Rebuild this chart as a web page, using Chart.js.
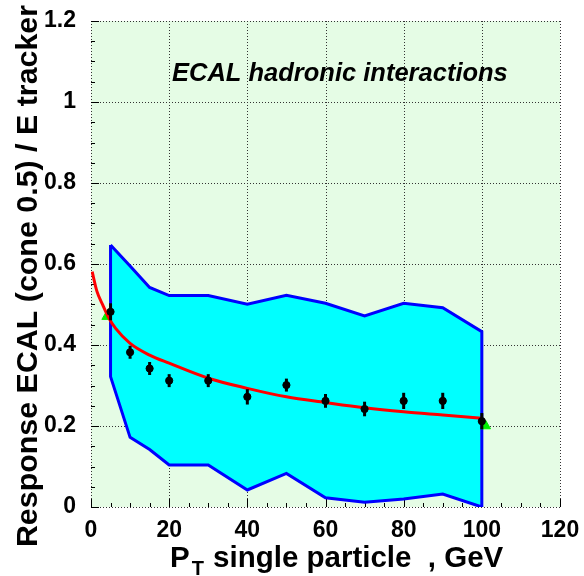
<!DOCTYPE html>
<html>
<head>
<meta charset="utf-8">
<script src="https://cdn.jsdelivr.net/npm/chart.js@4/dist/chart.umd.min.js"></script>
<style>
  html, body { margin: 0; padding: 0; background: #ffffff; }
  #wrap { width: 584px; height: 576px; position: relative; }
</style>
</head>
<body>
<div id="wrap"><canvas id="c" width="584" height="576"></canvas></div>
<script>
// Measured ECAL response per pT bin
const ptBins      = [5, 10, 15, 20, 30, 40, 50, 60, 70, 80, 90, 100];
const response    = [0.482, 0.382, 0.342, 0.312, 0.312, 0.272, 0.301, 0.262, 0.242, 0.262, 0.262, 0.212];
const responseErr = [0.021, 0.016, 0.016, 0.016, 0.016, 0.019, 0.016, 0.017, 0.018, 0.020, 0.020, 0.020];

// Spread of the response (upper / lower envelope)
const bandUpper = [0.647, 0.595, 0.542, 0.522, 0.522, 0.501, 0.523, 0.503, 0.472, 0.503, 0.492, 0.433];
const bandLower = [0.322, 0.172, 0.142, 0.104, 0.104, 0.042, 0.083, 0.023, 0.012, 0.020, 0.032, 0.000];

// Fitted response curve
const fitX = [0.3, 1.5, 3, 4.6, 6.3, 10, 15, 20, 30, 40, 50, 60, 70, 80, 90, 100];
const fitY = [0.581, 0.533, 0.499, 0.466, 0.441, 0.404, 0.375, 0.355, 0.318, 0.293, 0.272, 0.258, 0.245, 0.235, 0.227, 0.219];

// Fit range end markers
const edgeX = [4, 101];
const edgeY = [0.47, 0.20];

// Axis tick labels
const xTickLabels = ['0', '20', '40', '60', '80', '100', '120'];
const yTickLabels = ['0', '0.2', '0.4', '0.6', '0.8', '1', '1.2'];

const FONT = '"Liberation Sans", Arial, Helvetica, sans-serif';

// closed polygon: upper edge left->right, lower edge right->left
const bandPoly = [];
ptBins.forEach((x, i) => bandPoly.push({x, y: bandUpper[i]}));
for (let i = ptBins.length - 1; i >= 0; i--) bandPoly.push({x: ptBins[i], y: bandLower[i]});
bandPoly.push({x: ptBins[0], y: bandUpper[0]});

const plotFrame = {
  id: 'plotFrame',
  beforeDraw(chart) {
    const {ctx, chartArea: a} = chart;
    ctx.save();
    ctx.fillStyle = '#e5fce5';
    ctx.fillRect(a.left, a.top, a.right - a.left, a.bottom - a.top);
    ctx.restore();
  },
  beforeDatasetsDraw(chart) {
    const {ctx, chartArea: a, scales: {x, y}} = chart;
    ctx.save();
    ctx.strokeStyle = '#333333';
    ctx.lineWidth = 1;
    ctx.setLineDash([1, 2]);
    for (let v = 0; v <= 120; v += 20) {
      const px = Math.round(x.getPixelForValue(v)) + 0.5;
      ctx.beginPath(); ctx.moveTo(px, a.top); ctx.lineTo(px, a.bottom); ctx.stroke();
    }
    for (let k = 0; k <= 6; k++) {
      const py = Math.round(y.getPixelForValue(k * 0.2)) + 0.5;
      ctx.beginPath(); ctx.moveTo(a.left, py); ctx.lineTo(a.right, py); ctx.stroke();
    }
    ctx.setLineDash([]);
    ctx.strokeStyle = '#000000';
    // x ticks (inward from the bottom)
    for (let v = 0; v <= 120; v += 5) {
      const px = Math.round(x.getPixelForValue(v)) + 0.5;
      const len = (v % 20 === 0) ? 8 : 4;
      ctx.beginPath(); ctx.moveTo(px, a.bottom); ctx.lineTo(px, a.bottom - len); ctx.stroke();
    }
    // y ticks (inward from the left)
    for (let k = 0; k <= 24; k++) {
      const py = Math.round(y.getPixelForValue(k * 0.05)) + 0.5;
      const len = (k % 4 === 0) ? 8 : 4;
      ctx.beginPath(); ctx.moveTo(a.left, py); ctx.lineTo(a.left + len, py); ctx.stroke();
    }
    ctx.restore();
  },
  afterDatasetsDraw(chart) {
    const {ctx, scales: {x, y}} = chart;
    ctx.save();
    // error bars
    ctx.strokeStyle = '#000000';
    ctx.lineWidth = 3;
    ptBins.forEach((v, i) => {
      const px = x.getPixelForValue(v);
      ctx.beginPath();
      ctx.moveTo(px, y.getPixelForValue(response[i] - responseErr[i]));
      ctx.lineTo(px, y.getPixelForValue(response[i] + responseErr[i]));
      ctx.stroke();
    });
    // in-plot caption
    ctx.fillStyle = '#000000';
    ctx.font = 'italic bold 25.5px ' + FONT;
    ctx.textAlign = 'left';
    ctx.textBaseline = 'alphabetic';
    ctx.fillText('ECAL hadronic interactions', 172, 81);
    ctx.restore();
  },
  afterDraw(chart) {
    const {ctx} = chart;
    ctx.save();
    ctx.fillStyle = '#000000';
    ctx.textBaseline = 'alphabetic';
    // x axis title with subscript
    ctx.textAlign = 'left';
    ctx.font = 'bold 29.5px ' + FONT;
    let cx = 170;
    ctx.fillText('P', cx, 567);
    cx += ctx.measureText('P').width + 2;
    ctx.font = 'bold 20px ' + FONT;
    ctx.fillText('T', cx, 575);
    cx += ctx.measureText('T').width;
    ctx.font = 'bold 29.5px ' + FONT;
    ctx.fillText(' single particle  , GeV', cx + 1, 567);
    // y axis title
    ctx.translate(37, 276);
    ctx.rotate(-Math.PI / 2);
    ctx.textAlign = 'center';
    ctx.font = 'bold 30.4px ' + FONT;
    ctx.fillText('Response ECAL (cone 0.5) / E tracker', 0, 0);
    ctx.restore();
  }
};

new Chart(document.getElementById('c'), {
  type: 'scatter',
  data: {
    datasets: [
      {
        label: 'points',
        data: ptBins.map((x, i) => ({x, y: response[i]})),
        backgroundColor: '#000000',
        borderColor: '#000000',
        pointRadius: 3.6,
        pointHoverRadius: 3.6,
        showLine: false,
        order: 1
      },
      {
        label: 'fit',
        type: 'line',
        data: fitX.map((x, i) => ({x, y: fitY[i]})),
        borderColor: '#ff0000',
        borderWidth: 3,
        pointRadius: 0,
        cubicInterpolationMode: 'monotone',
        fill: false,
        order: 2
      },
      {
        label: 'edges',
        data: edgeX.map((x, i) => ({x, y: edgeY[i]})),
        pointStyle: 'triangle',
        backgroundColor: '#00ee00',
        borderColor: '#00ee00',
        pointRadius: 5.5,
        showLine: false,
        order: 3
      },
      {
        label: 'band',
        type: 'line',
        data: bandPoly,
        borderColor: '#0000ff',
        backgroundColor: '#00ffff',
        borderWidth: 3,
        pointRadius: 0,
        tension: 0,
        fill: 'shape',
        order: 4
      }
    ]
  },
  options: {
    responsive: false,
    animation: false,
    devicePixelRatio: 1,
    layout: { padding: { top: 21, right: 24, left: 0, bottom: 0 } },
    plugins: { legend: { display: false }, tooltip: { enabled: false } },
    scales: {
      x: {
        type: 'linear', min: 0, max: 120,
        ticks: {
          stepSize: 20, padding: 10, color: '#000000',
          font: { family: FONT, size: 23, weight: 'bold' },
          maxRotation: 0,
          callback: (v) => xTickLabels[Math.round(v / 20)]
        },
        grid: { display: false, drawTicks: false },
        border: { display: false },
        afterFit: (s) => { s.height = 69; s.paddingLeft = 0; s.paddingRight = 0; }
      },
      y: {
        type: 'linear', min: 0, max: 1.2,
        ticks: {
          stepSize: 0.2, padding: 15, color: '#000000',
          font: { family: FONT, size: 23, weight: 'bold' },
          callback: (v) => yTickLabels[Math.round(v / 0.2)]
        },
        grid: { display: false, drawTicks: false },
        border: { display: false },
        afterFit: (s) => { s.width = 91; s.paddingTop = 0; s.paddingBottom = 0; }
      }
    }
  },
  plugins: [plotFrame]
});
</script>
</body>
</html>
